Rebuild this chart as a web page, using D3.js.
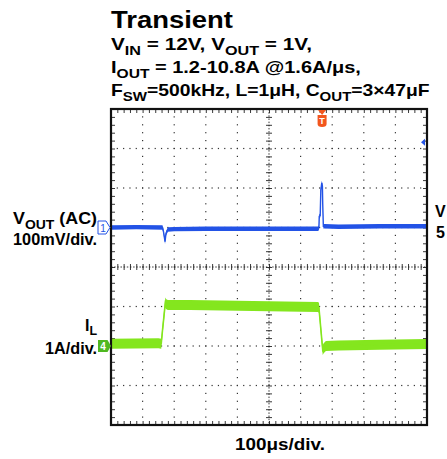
<!DOCTYPE html>
<html>
<head>
<meta charset="utf-8">
<script src="https://cdn.jsdelivr.net/npm/d3@7"></script>
<style>
  body { margin: 0; background: #fff; }
  svg { display: block; font-family: "Liberation Sans", Arial, sans-serif; }
</style>
</head>
<body>
<div id="chart"></div>
<script>
// channel 1: Vout (AC), mV, vs time in us
const voutTime = [0, 80, 163, 166, 171, 174, 180, 200, 300, 450, 600, 656, 658, 659, 662, 664, 667, 669, 670, 672, 676, 720, 850, 1000];
const voutMv = [0, 1, 0, -10, -36, -15, -5, -4, -3, -3, -3, -3, 0, 28, 30, 95, 113, 105, 60, 3, 3, 2, 3, 3];
// channel 4: inductor current, A (relative to channel marker)
const ilTime = [0, 150, 159, 163, 172, 175, 180, 250, 400, 550, 655, 658, 670, 673, 680, 720, 850, 1000];
const ilAmp = [0.06, 0.07, 0.06, 0.4, 1.1, 1.06, 1.04, 1.04, 1.02, 1.0, 0.99, 0.97, -0.1, -0.06, 0.0, 0.01, 0.03, 0.05];

const timeTicks = d3.range(0, 1001, 100);   // 100us/div
const timeMinor = d3.range(0, 1001, 20);
const divTicks = d3.range(-4, 4.01, 1);
const divMinor = d3.range(-4, 4.01, 0.2);
const triggerTime = 668;

const titleText = "Transient";
const subtitleLines = [
  [["V"], ["IN", 1], [" = 12V, V"], ["OUT", 1], [" = 1V,"]],
  [["I"], ["OUT", 1], [" = 1.2-10.8A @1.6A/\u03bcs,"]],
  [["F"], ["SW", 1], ["=500kHz, L=1\u03bcH, C"], ["OUT", 1], ["=3\u00d747\u03bcF"]]
];
const ch1Label = [[["V"], ["OUT", 1], [" (AC)"]], [["100mV/div."]]];
const ch4Label = [[["I"], ["L", 1]], [["1A/div."]]];
const timeLabel = "100\u03bcs/div.";

class Scope {
  constructor(el) {
    this.el = el;
    this.width = 447;
    this.height = 459;
    this.frame = { x0: 111, x1: 427, y0: 109, y1: 425 };
    this.blue = "#2353e6";
    this.green = "#84e61e";
    this.orange = "#f2561d";
    this.init();
    this.draw();
  }

  init() {
    const f = this.frame;
    this.svg = d3.select(this.el).append("svg")
      .attr("width", this.width)
      .attr("height", this.height);
    this.x = d3.scaleLinear().domain([0, 1000]).range([f.x0, f.x1]);
    this.y = d3.scaleLinear().domain([-4, 4]).range([f.y1, f.y0]);
    // channel offsets in divisions and units per division
    this.ch1 = v => this.y(1 + v / 100);
    this.ch4 = v => this.y(-2 + v / 1);
  }

  rich(g, segs, x, y, size, anchor, drop) {
    const d = drop || size * 0.3;
    const t = g.append("text")
      .attr("x", x).attr("y", y)
      .attr("font-size", size)
      .attr("font-weight", "bold")
      .attr("text-anchor", anchor || "start");
    let down = false;
    segs.forEach(s => {
      const sp = t.append("tspan").text(s[0]);
      if (s[1] && !down) { sp.attr("dy", d).attr("font-size", size * 0.78); down = true; }
      else if (s[1]) sp.attr("font-size", size * 0.78);
      else if (down) { sp.attr("dy", -d); down = false; }
    });
    return t;
  }

  fit(t, x0, w) {
    const b = t.node().getBBox();
    const s = w / b.width;
    t.attr("transform", `translate(${x0},0) scale(${s},1) translate(${-x0},0)`);
  }

  draw() {
    const f = this.frame, x = this.x, y = this.y, svg = this.svg;

    // header
    const head = svg.append("g");
    const title = head.append("text")
      .attr("x", f.x0).attr("y", 28)
      .attr("font-size", 24).attr("font-weight", "bold")
      .text(titleText);
    this.fit(title, f.x0, 122);
    const widths = [201, 250, 319];
    subtitleLines.forEach((segs, i) => {
      const t = this.rich(head, segs, f.x0, 50 + i * 23, 16);
      this.fit(t, f.x0, widths[i]);
    });

    // grid dots
    const grid = svg.append("g").attr("fill", "#333");
    timeTicks.filter(d => d > 0 && d < 1000 && d !== 500).forEach(t => {
      grid.selectAll(null).data(divMinor).join("rect")
        .attr("x", x(t) - 0.6).attr("y", d => y(d) - 0.6)
        .attr("width", 1.2).attr("height", 1.2);
    });
    divTicks.filter(d => d > -4 && d < 4 && d !== 0).forEach(v => {
      grid.selectAll(null).data(timeMinor).join("rect")
        .attr("x", d => x(d) - 0.6).attr("y", y(v) - 0.6)
        .attr("width", 1.2).attr("height", 1.2);
    });

    // center crosshair and border ticks
    const tickAxis = (axis, tx, ty) => {
      const g = svg.append("g")
        .attr("transform", `translate(${tx},${ty})`)
        .call(axis.tickFormat(""));
      g.select(".domain").remove();
      g.selectAll("line").attr("stroke", "#222").attr("stroke-width", 0.9);
    };
    const cx = x(500), cy = y(0);
    tickAxis(d3.axisLeft(y).tickValues(divMinor).tickSize(6), cx + 3, 0);
    tickAxis(d3.axisBottom(x).tickValues(timeMinor).tickSize(6), 0, cy - 3);
    svg.append("line").attr("x1", cx).attr("x2", cx).attr("y1", f.y0).attr("y2", f.y1)
      .attr("stroke", "#222").attr("stroke-width", 0.9).attr("stroke-dasharray", "1.5,1.66");
    svg.append("line").attr("x1", f.x0).attr("x2", f.x1).attr("y1", cy).attr("y2", cy)
      .attr("stroke", "#222").attr("stroke-width", 0.9).attr("stroke-dasharray", "1.5,1.66");
    tickAxis(d3.axisBottom(x).tickValues(timeMinor).tickSize(4), 0, f.y0);
    tickAxis(d3.axisTop(x).tickValues(timeMinor).tickSize(4), 0, f.y1);
    tickAxis(d3.axisRight(y).tickValues(divMinor).tickSize(4), f.x0, 0);
    tickAxis(d3.axisLeft(y).tickValues(divMinor).tickSize(4), f.x1, 0);

    // traces
    const vout = voutTime.map((t, i) => ({ t, v: voutMv[i] }));
    const il = ilTime.map((t, i) => ({ t, v: ilAmp[i] }));
    const band = (fn, h) => d3.area().x(d => x(d.t)).y0(d => fn(d.v) + h).y1(d => fn(d.v) - h);
    const line = fn => d3.line().x(d => x(d.t)).y(d => fn(d.v));
    svg.append("path").datum(il).attr("d", band(this.ch4, 5)).attr("fill", this.green);
    svg.append("path").datum(il).attr("d", line(this.ch4)).attr("fill", "none")
      .attr("stroke", this.green).attr("stroke-width", 1.6);
    svg.append("path").datum(vout).attr("d", band(this.ch1, 2.2)).attr("fill", this.blue);
    svg.append("path").datum(vout).attr("d", line(this.ch1)).attr("fill", "none")
      .attr("stroke", this.blue).attr("stroke-width", 1.4);

    // frame
    svg.append("rect")
      .attr("x", f.x0).attr("y", f.y0)
      .attr("width", f.x1 - f.x0).attr("height", f.y1 - f.y0)
      .attr("fill", "none").attr("stroke", "#111").attr("stroke-width", 2.2);

    // channel markers
    const m1 = this.ch1(0), m4 = this.ch4(0);
    svg.append("path")
      .attr("d", `M98,${m1 - 6.5}H106L110,${m1}L106,${m1 + 6.5}H98Z`)
      .attr("fill", "#fff").attr("stroke", this.blue).attr("stroke-width", 1);
    svg.append("text").attr("x", 103).attr("y", m1 + 4).attr("text-anchor", "middle")
      .attr("font-size", 10).attr("fill", this.blue).text("1");
    svg.append("path")
      .attr("d", `M98,${m4 - 6}H107.5L111,${m4}L107.5,${m4 + 6}H98Z`)
      .attr("fill", "#4fb820");
    svg.append("text").attr("x", 103).attr("y", m4 + 4).attr("text-anchor", "middle")
      .attr("font-size", 10).attr("font-weight", "bold").attr("fill", "#fff").text("4");

    // trigger marker
    const tx = x(triggerTime);
    svg.append("path")
      .attr("d", `M${tx - 4},${f.y0 + 1}H${tx + 4}L${tx},${f.y0 + 6}Z`)
      .attr("fill", this.orange);
    svg.append("path")
      .attr("d", `M${tx - 4.5},${f.y0 + 6}H${tx + 4.5}V${f.y0 + 15}Q${tx + 4.5},${f.y0 + 18} ${tx},${f.y0 + 18}Q${tx - 4.5},${f.y0 + 18} ${tx - 4.5},${f.y0 + 15}Z`)
      .attr("fill", this.orange);
    svg.append("text").attr("x", tx).attr("y", f.y0 + 15).attr("text-anchor", "middle")
      .attr("font-size", 9).attr("font-weight", "bold").attr("fill", "#fff").text("T");

    // trigger level arrow at right edge
    const ty = y(3.16);
    svg.append("path")
      .attr("d", `M${f.x1 - 6},${ty}L${f.x1 - 2},${ty - 3.5}V${ty + 3.5}Z`)
      .attr("fill", this.blue);

    // labels
    const lab = svg.append("g");
    const l1 = this.rich(lab, ch1Label[0], 97, 224, 16, "end");
    this.fit(l1, 97, 84);
    const l2 = this.rich(lab, ch1Label[1], 97, 245, 16, "end");
    this.fit(l2, 97, 84);
    this.rich(lab, ch4Label[0], 97, 331, 16, "end", 3.5);
    const l4 = this.rich(lab, ch4Label[1], 97, 354, 16, "end");
    this.fit(l4, 97, 52);
    lab.append("text").attr("x", 435).attr("y", 217).attr("font-size", 16)
      .attr("font-weight", "bold").text("V");
    lab.append("text").attr("x", 436).attr("y", 238).attr("font-size", 16)
      .attr("font-weight", "bold").text("5");
    const tl = lab.append("text").attr("x", 235).attr("y", 450).attr("font-size", 16)
      .attr("font-weight", "bold").text(timeLabel);
    this.fit(tl, 235, 90);
  }
}

new Scope(document.getElementById("chart"));
</script>
</body>
</html>
